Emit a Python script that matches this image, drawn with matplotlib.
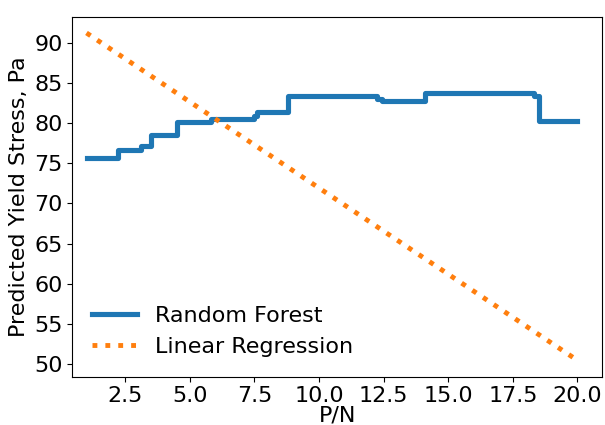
import numpy as np
import matplotlib.pyplot as plt

# Random forest prediction (step function)
rf_x = [1.0, 2.2, 3.1, 3.5, 4.5, 5.8, 7.5, 7.6, 8.8, 12.25, 12.45, 14.1, 18.3, 18.5, 20.0]
rf_y = [75.7, 76.7, 77.1, 78.5, 80.1, 80.5, 80.9, 81.4, 83.4, 83.0, 82.7, 83.7, 83.3, 80.2, 80.2]

# Linear regression prediction (straight line)
lr_x = [1.0, 20.0]
lr_y = [91.2, 50.5]

fig, ax = plt.subplots(figsize=(6.05, 4.25), dpi=100)
fig.subplots_adjust(left=0.1195, right=0.995, top=0.961, bottom=0.1136)

ax.plot(rf_x, rf_y, drawstyle="steps-post", lw=3.7, color="tab:blue", label="Random Forest")
ax.plot(lr_x, lr_y, ls=":", lw=3.5, color="tab:orange", label="Linear Regression")

ax.set_xlim(0.45, 20.95)
ax.set_xticks(np.arange(2.5, 20.1, 2.5))
ax.set_yticks(np.arange(50, 91, 5))
ax.tick_params(labelsize=16)
ax.set_xlabel("P/N", fontsize=16, labelpad=-1)
ax.set_ylabel("Predicted Yield Stress, Pa", fontsize=16)
ax.legend(loc="lower left", fontsize=16, frameon=False)

plt.savefig("out.png")
